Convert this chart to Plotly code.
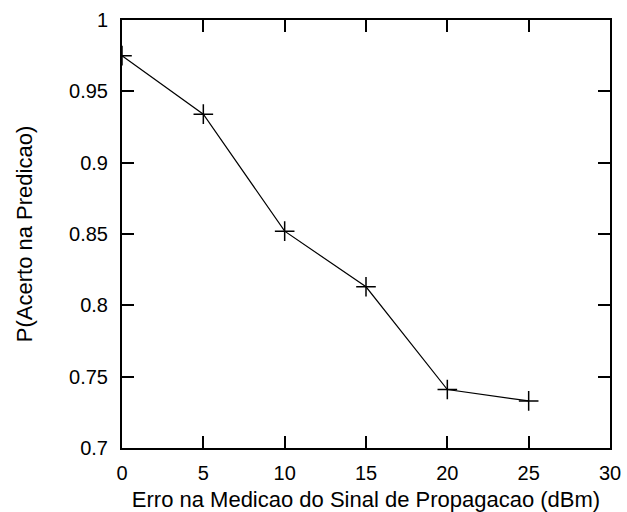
import plotly.graph_objects as go

erro_dbm = [0, 5, 10, 15, 20, 25]
p_acerto = [0.975, 0.934, 0.852, 0.813, 0.741, 0.733]

x_ticks = [0, 5, 10, 15, 20, 25, 30]
y_ticks = [0.7, 0.75, 0.8, 0.85, 0.9, 0.95, 1.0]
y_tick_labels = ["0.7", "0.75", "0.8", "0.85", "0.9", "0.95", "1"]

fig = go.Figure()
fig.add_trace(go.Scatter(
    x=erro_dbm, y=p_acerto, mode="lines+markers",
    line=dict(color="black", width=1.2),
    marker=dict(symbol="cross-thin", size=14, line=dict(color="black", width=1.5)),
    showlegend=False,
))

family = "Liberation Sans, Arial, sans-serif"
fig.update_layout(
    width=627, height=512,
    margin=dict(l=122, r=17, t=20, b=64),
    paper_bgcolor="white", plot_bgcolor="white",
    font=dict(family=family, size=20, color="black"),
    xaxis=dict(
        range=[0, 30], tickvals=x_ticks, ticks="inside", ticklen=12, tickwidth=2,
        tickcolor="black", showline=True, linecolor="black", linewidth=2, mirror="ticks",
        showgrid=False, zeroline=False, ticklabelstandoff=6, automargin=False,
        tickfont=dict(family=family, size=20, color="black"),
        title=dict(text="Erro na Medicao do Sinal de Propagacao (dBm)", standoff=12,
                   font=dict(family=family, size=22, color="black")),
    ),
    yaxis=dict(
        range=[0.7, 1.0], tickvals=y_ticks, ticktext=y_tick_labels, ticks="inside",
        ticklen=12, tickwidth=2, tickcolor="black", showline=True, linecolor="black",
        linewidth=2, mirror="ticks", showgrid=False, zeroline=False, ticklabelstandoff=8,
        automargin=False,
        tickfont=dict(family=family, size=20, color="black"),
        title=dict(text="P(Acerto na Predicao)", standoff=30,
                   font=dict(family=family, size=22, color="black")),
    ),
)
fig.write_html("out.html")
